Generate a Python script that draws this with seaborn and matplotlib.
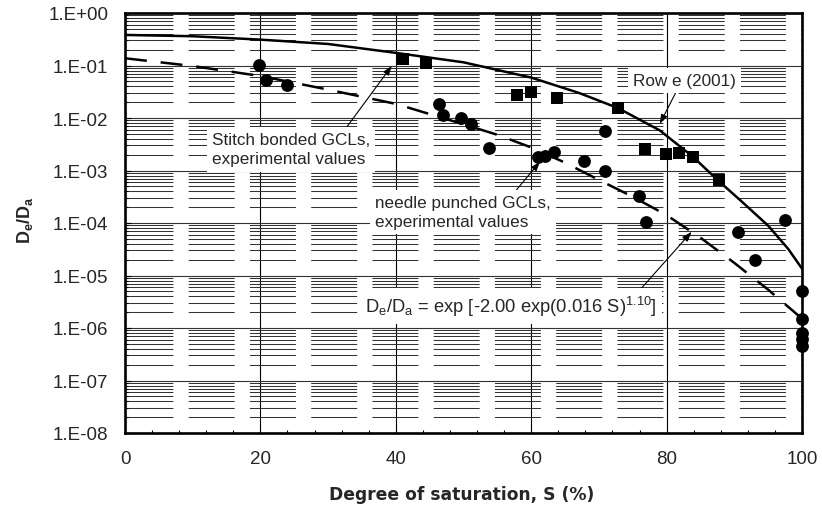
import numpy as np
import matplotlib
matplotlib.use("Agg")
import matplotlib.pyplot as plt
import seaborn as sns
from matplotlib.ticker import MultipleLocator, LogLocator, NullFormatter

# ---------------- data ----------------
needle_S = [19.8, 20.8, 23.9, 46.4, 46.9, 49.6, 51.1, 53.8, 61.0, 62.0, 63.4,
            67.8, 70.9, 70.9, 75.9, 76.9, 90.6, 93.0, 97.5,
            100, 100, 100, 100, 100]
needle_D = [0.104, 0.054, 0.043, 0.0186, 0.0112, 0.00995, 0.00776, 0.00268,
            0.0018, 0.00186, 0.00225, 0.00151, 0.00564, 0.00096, 3.27e-4,
            1.05e-4, 6.8e-5, 2.0e-5, 1.13e-4, 5.0e-6, 1.5e-6, 7.9e-7,
            6.1e-7, 4.6e-7]

stitch_S = [41.0, 44.5, 57.9, 59.9, 63.8, 72.8, 76.8, 79.9, 81.8, 83.9, 87.7]
stitch_D = [0.133, 0.112, 0.0276, 0.0319, 0.0239, 0.0154, 0.0026, 0.00202,
            0.00218, 0.0018, 6.7e-4]

rowe_S = [0, 10, 20, 30, 40, 50, 60, 67, 72.8, 79, 83.9, 87.6, 91, 95, 98, 100]
rowe_D = [0.382, 0.361, 0.311, 0.257, 0.174, 0.115, 0.0589, 0.0302, 0.0155,
          0.0058, 0.00182, 6.46e-4, 2.63e-4, 8.9e-5, 3.16e-5, 1.35e-5]

fit_S = [0, 10, 20, 30, 40, 50, 55, 60, 65, 70, 75, 80, 85, 90, 95, 100]
fit_D = [0.1374, 0.0977, 0.0631, 0.0347, 0.0186, 0.00759, 0.00479, 0.00275,
         0.00141, 6.61e-4, 3.16e-4, 1.41e-4, 5.25e-5, 1.74e-5, 5.37e-6, 1.51e-6]

x_ticks = [0, 20, 40, 60, 80, 100]
x_tick_labels = ["0", "20", "40", "60", "80", "100"]
y_ticks = [1e0, 1e-1, 1e-2, 1e-3, 1e-4, 1e-5, 1e-6, 1e-7, 1e-8]
y_tick_labels = ["1.E+00", "1.E-01", "1.E-02", "1.E-03", "1.E-04",
                 "1.E-05", "1.E-06", "1.E-07", "1.E-08"]

x_label = "Degree of saturation, S (%)"
y_label = r"$\mathbf{D_e/D_a}$"
txt_stitch = "Stitch bonded GCLs,\nexperimental values"
txt_needle = "needle punched GCLs,\nexperimental values"
txt_rowe = "Row e (2001)"
txt_formula = r"D$_\mathrm{e}$/D$_\mathrm{a}$ = exp [-2.00 exp(0.016 S)$^{1.10}$]"

# ---------------- style ----------------
sns.set_style("white")
plt.rcParams["font.family"] = ["Liberation Sans", "DejaVu Sans"]
plt.rcParams["mathtext.fontset"] = "custom"
plt.rcParams["mathtext.rm"] = "Liberation Sans"
plt.rcParams["mathtext.it"] = "Liberation Sans:italic"
plt.rcParams["mathtext.bf"] = "Liberation Sans:bold"
plt.rcParams["lines.scale_dashes"] = False

fig = plt.figure(figsize=(8.22, 5.10), dpi=100)
ax = fig.add_axes([125 / 822, 1 - 434 / 510, 677 / 822, 420 / 510])

# curves
sns.lineplot(x=rowe_S, y=rowe_D, ax=ax, color="black", lw=1.8,
             sort=False, estimator=None, zorder=4)
sns.lineplot(x=fit_S, y=fit_D, ax=ax, color="black", lw=1.8,
             sort=False, estimator=None, linestyle=(0, (15.8, 10.0)),
             zorder=4)

# points
sns.scatterplot(x=needle_S, y=needle_D, ax=ax, marker="o", s=85,
                color="black", edgecolor="black", linewidth=0,
                clip_on=False, zorder=6)
sns.scatterplot(x=stitch_S, y=stitch_D, ax=ax, marker="s", s=85,
                color="black", edgecolor="black", linewidth=0,
                clip_on=False, zorder=6)

ax.set_yscale("log")
ax.set_xlim(0, 100)
ax.set_ylim(1e-8, 1)

ax.set_xticks(x_ticks)
ax.set_xticklabels(x_tick_labels)
ax.set_yticks(y_ticks)
ax.set_yticklabels(y_tick_labels)
ax.xaxis.set_minor_locator(MultipleLocator(4))
ax.yaxis.set_minor_locator(LogLocator(base=10, subs=np.arange(2, 10), numticks=30))
ax.yaxis.set_minor_formatter(NullFormatter())

ax.tick_params(which="both", direction="in", bottom=True, left=True,
               top=False, right=False, color="black")
ax.tick_params(which="major", length=4, width=0.8, labelsize=13.5)
ax.tick_params(which="minor", length=2.5, width=0.8)
ax.tick_params(axis="x", which="major", pad=12, length=0)
ax.tick_params(axis="y", which="major", pad=12)

# gridlines
ax.grid(False)
ax.xaxis.grid(True, which="major", color="black", lw=0.8)
ax.yaxis.grid(True, which="major", color="#333333", lw=0.8)
ax.yaxis.grid(True, which="minor", color="#333333", lw=0.75,
              linestyle=(42.7, (33.1, 11.0)))
ax.set_axisbelow(True)

for sp in ax.spines.values():
    sp.set_linewidth(1.9)
    sp.set_color("black")
    sp.set_zorder(5)

# labels
ax.set_xlabel("")
ax.set_ylabel("")
fig.text(462 / 822, 1 - 495 / 510, x_label, ha="center", va="center",
         fontsize=12.3, fontweight="bold", family=["DejaVu Sans"])
fig.text(25 / 822, 1 - 220 / 510, y_label, ha="center", va="center",
         rotation=90, fontsize=13)

# annotations
box = dict(boxstyle="square,pad=0.3", fc="white", ec="none")
fs = 12.3


def arrow(rel):
    return dict(arrowstyle="-|>,head_length=0.45,head_width=0.16",
                color="black", lw=0.8, relpos=rel, shrinkA=0, shrinkB=0)


ax.annotate(txt_stitch, xy=(39.4, 0.098), xycoords="data",
            xytext=(0.1285, 0.676), textcoords="axes fraction",
            ha="left", va="center", fontsize=fs, linespacing=1.4,
            bbox=box, arrowprops=arrow((0.83, 1.0)), zorder=3)
ax.annotate(txt_needle, xy=(61.3, 1.47e-3), xycoords="data",
            xytext=(0.369, 0.526), textcoords="axes fraction",
            ha="left", va="center", fontsize=fs, linespacing=1.3,
            bbox=box, arrowprops=arrow((0.78, 1.0)), zorder=3)
ax.annotate(txt_rowe, xy=(79.0, 7.76e-3), xycoords="data",
            xytext=(0.750, 0.839), textcoords="axes fraction",
            ha="left", va="center", fontsize=fs,
            bbox=box, arrowprops=arrow((0.44, 0.0)), zorder=3)
ax.annotate(txt_formula, xy=(83.7, 6.8e-5), xycoords="data",
            xytext=(0.3545, 0.3024), textcoords="axes fraction",
            ha="left", va="center", fontsize=13.2,
            bbox=box, arrowprops=arrow((0.93, 1.0)), zorder=3)

fig.savefig("out.png", dpi=100)
